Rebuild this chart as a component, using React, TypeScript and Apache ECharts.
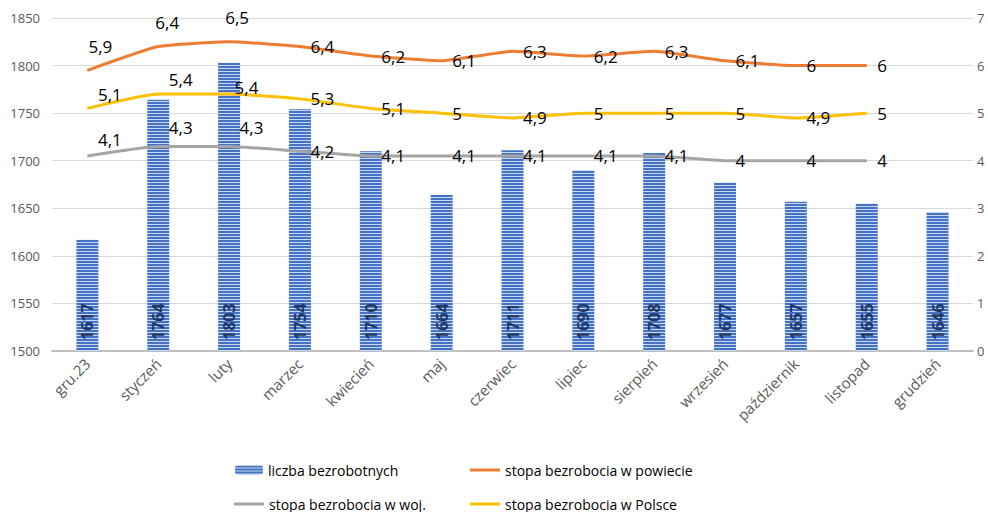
import React, { useEffect, useRef } from "react";
import * as echarts from "echarts";

const categories = ["gru.23", "styczeń", "luty", "marzec", "kwiecień", "maj", "czerwiec", "lipiec", "sierpień", "wrzesień", "październik", "listopad", "grudzień"];
const unemployed = [1617, 1764, 1803, 1754, 1710, 1664, 1711, 1690, 1708, 1677, 1657, 1655, 1646];
const rateCounty = [5.9, 6.4, 6.5, 6.4, 6.2, 6.1, 6.3, 6.2, 6.3, 6.1, 6, 6];
const rateVoivodeship = [4.1, 4.3, 4.3, 4.2, 4.1, 4.1, 4.1, 4.1, 4.1, 4, 4, 4];
const ratePoland = [5.1, 5.4, 5.4, 5.3, 5.1, 5, 4.9, 5, 5, 5, 4.9, 5];

const leftMin = 1500;
const leftMax = 1850;
const leftStep = 50;
const rightMin = 0;
const rightMax = 7;
const rightStep = 1;

const seriesNames = ["liczba bezrobotnych", "stopa bezrobocia w powiecie", "stopa bezrobocia w woj.", "stopa bezrobocia w Polsce"];

// label placement styles (per point)
const countyLabelStyle: any[] = [
  { position: "top", offset: [13, -5] },
  { position: "top", offset: [9, -5] },
  { position: "top", offset: [8, -5] },
];
const voivLabelStyle: any[] = [
  { position: "right", offset: [0, -16] },
  { position: "right", offset: [0, -19] },
  { position: "right", offset: [0, -19] },
];
const polandLabelStyle: any[] = [
  { position: "right", offset: [0, -14] },
  { position: "right", offset: [0, -15] },
  { position: "right", offset: [-5, -7] },
];

const FONT = "'Open Sans', 'Noto Sans', sans-serif";

function fmt(v: number) {
  return String(v).replace(".", ",");
}

function makePattern() {
  const c = document.createElement("canvas");
  c.width = 4;
  c.height = 3;
  const ctx = c.getContext("2d")!;
  ctx.fillStyle = "#4472C4";
  ctx.fillRect(0, 0, 4, 3);
  ctx.fillStyle = "#C9D7F1";
  ctx.fillRect(0, 2, 4, 1);
  return c;
}

function lineData(values: number[], styles: any[]) {
  return values.map((v, i) => {
    const s = styles[i];
    return s ? { value: v, label: s } : { value: v };
  });
}

export default function App() {
  const ref = useRef<HTMLDivElement>(null);
  useEffect(() => {
    const chart = echarts.init(ref.current!, null, { renderer: "svg" });
    const pattern = { image: makePattern(), repeat: "repeat" } as any;
    const lineLabel = {
      show: true,
      position: "right",
      distance: 10,
      color: "#000",
      fontSize: 17,
      fontFamily: FONT,
      formatter: (p: any) => fmt(p.value),
    };
    const lineCommon = {
      type: "line",
      yAxisIndex: 1,
      symbol: "circle",
      symbolSize: 1,
      smooth: 0.15,
      z: 3,
    };
    const legendText = { fontSize: 14, color: "#000", fontFamily: FONT, lineHeight: 16 };
    chart.setOption({
      animation: false,
      textStyle: { fontFamily: FONT },
      grid: { left: 52, right: 15, top: 18, bottom: 161, outerBoundsMode: "none", containLabel: false },
      xAxis: {
        type: "category",
        data: categories,
        axisTick: { show: false },
        axisLine: { lineStyle: { color: "#BFBFBF", width: 2 } },
        axisLabel: { rotate: 45, color: "#595959", fontSize: 15, fontFamily: FONT, margin: 10, interval: 0 },
      },
      yAxis: [
        {
          type: "value",
          min: leftMin,
          max: leftMax,
          interval: leftStep,
          axisLine: { show: false },
          axisTick: { show: false },
          axisLabel: { color: "#595959", fontSize: 13, fontFamily: FONT, margin: 12, formatter: (v: number) => String(v) },
          splitLine: { lineStyle: { color: "#D9D9D9", width: 1 } },
        },
        {
          type: "value",
          min: rightMin,
          max: rightMax,
          interval: rightStep,
          axisLine: { show: false },
          axisTick: { show: false },
          axisLabel: { color: "#595959", fontSize: 13, fontFamily: FONT, margin: 4, formatter: (v: number) => String(v) },
          splitLine: { show: false },
        },
      ],
      legend: [
        { data: [seriesNames[0]], left: 230, top: 457, itemWidth: 28, itemHeight: 9, itemGap: 2, textStyle: legendText },
        { data: [{ name: seriesNames[1], icon: "rect" }], left: 465, top: 457, itemWidth: 30, itemHeight: 3, textStyle: legendText },
        { data: [{ name: seriesNames[2], icon: "rect" }], left: 229, top: 491, itemWidth: 30, itemHeight: 3, textStyle: legendText },
        { data: [{ name: seriesNames[3], icon: "rect" }], left: 465, top: 491, itemWidth: 30, itemHeight: 3, textStyle: legendText },
      ],
      series: [
        {
          name: seriesNames[0],
          type: "bar",
          data: unemployed,
          barWidth: 22,
          itemStyle: { color: pattern },
          label: {
            show: true,
            position: "insideBottom",
            rotate: 90,
            distance: 11,
            align: "left",
            verticalAlign: "middle",
            color: "#1F3864",
            fontWeight: "bold",
            fontSize: 16,
            fontFamily: FONT,
          },
          z: 2,
        },
        {
          ...lineCommon,
          name: seriesNames[1],
          data: lineData(rateCounty, countyLabelStyle),
          itemStyle: { color: "#ED7D31" },
          lineStyle: { color: "#ED7D31", width: 3 },
          label: lineLabel,
        },
        {
          ...lineCommon,
          name: seriesNames[2],
          data: lineData(rateVoivodeship, voivLabelStyle),
          itemStyle: { color: "#A5A5A5" },
          lineStyle: { color: "#A5A5A5", width: 3 },
          label: lineLabel,
        },
        {
          ...lineCommon,
          name: seriesNames[3],
          data: lineData(ratePoland, polandLabelStyle),
          itemStyle: { color: "#FFC000" },
          lineStyle: { color: "#FFC000", width: 3 },
          label: lineLabel,
        },
      ],
    });
    return () => chart.dispose();
  }, []);
  return <div ref={ref} style={{ position: "absolute", left: 0, top: 0, width: 988, height: 512 }} />;
}
